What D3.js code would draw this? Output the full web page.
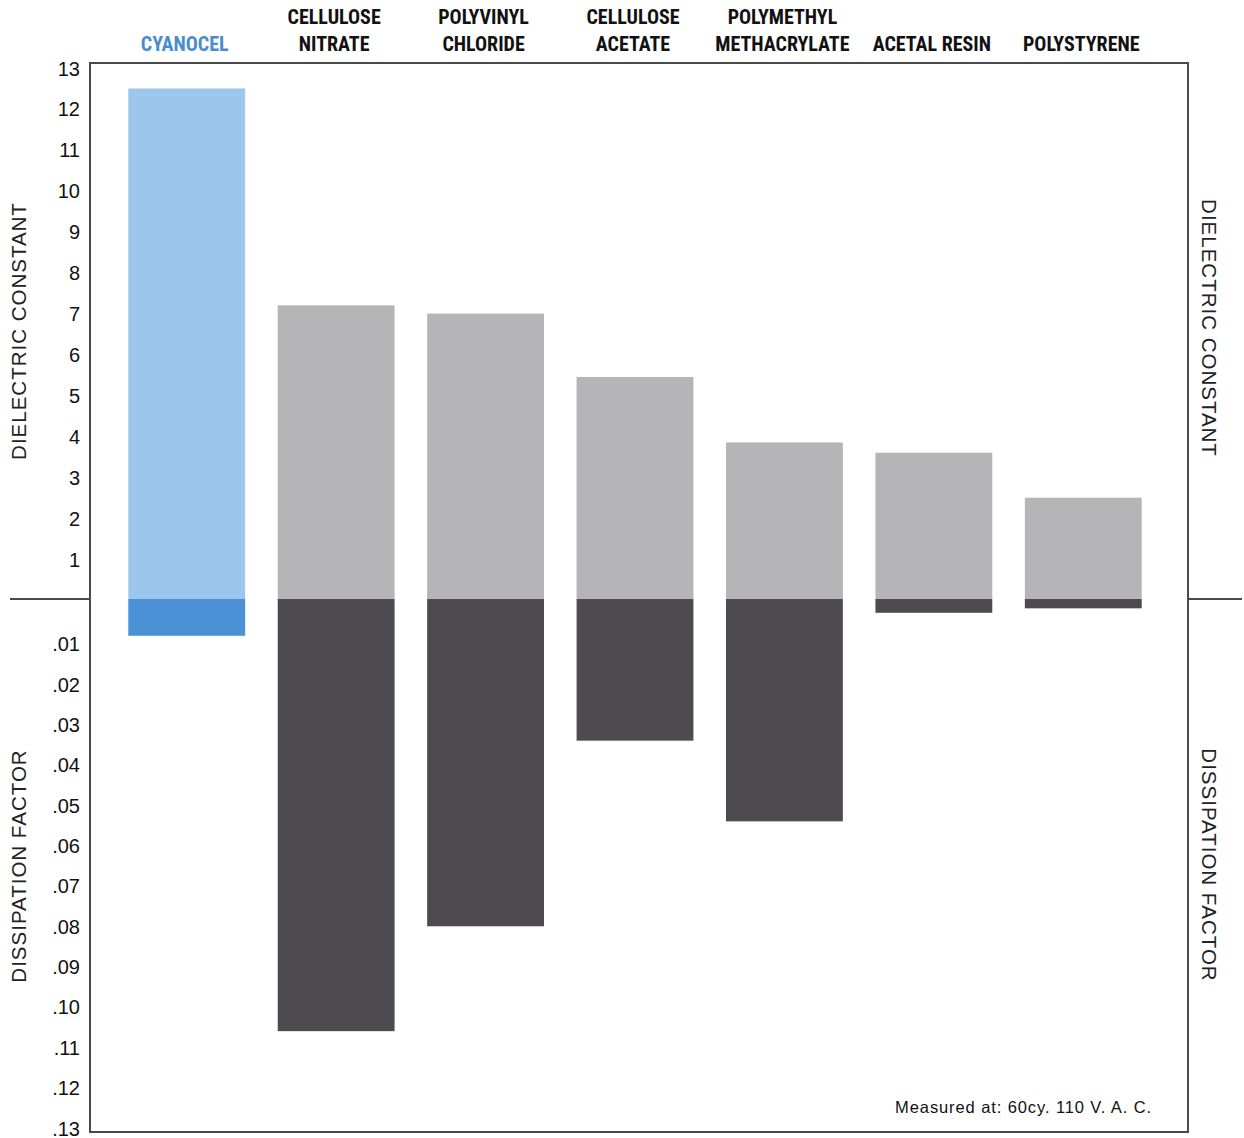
<!DOCTYPE html>
<html>
<head>
<meta charset="utf-8">
<script src="https://cdn.jsdelivr.net/npm/d3@7"></script>
<style>
  html, body { margin: 0; padding: 0; background: #fff; }
  svg { display: block; }
</style>
</head>
<body>
<svg id="chart" width="1244" height="1138"></svg>
<script>
// ---- data ----
const categories = ["CYANOCEL", "CELLULOSE NITRATE", "POLYVINYL CHLORIDE", "CELLULOSE ACETATE",
                    "POLYMETHYL METHACRYLATE", "ACETAL RESIN", "POLYSTYRENE"];
const categoryLines = [["CYANOCEL"], ["CELLULOSE", "NITRATE"], ["POLYVINYL", "CHLORIDE"],
                       ["CELLULOSE", "ACETATE"], ["POLYMETHYL", "METHACRYLATE"], ["ACETAL RESIN"], ["POLYSTYRENE"]];
const dielectricConstant = [12.5, 7.2, 7.0, 5.45, 3.85, 3.6, 2.5];
const dissipationFactor  = [0.008, 0.106, 0.080, 0.034, 0.054, 0.0023, 0.0012];
const dielectricTicks  = [1, 2, 3, 4, 5, 6, 7, 8, 9, 10, 11, 12, 13];
const dissipationTicks = [0.01, 0.02, 0.03, 0.04, 0.05, 0.06, 0.07, 0.08, 0.09, 0.10, 0.11, 0.12, 0.13];
const dissipationTickLabels = [".01", ".02", ".03", ".04", ".05", ".06", ".07", ".08", ".09", ".10", ".11", ".12", ".13"];
const highlight = "CYANOCEL";
const note = "Measured at: 60cy. 110 V. A. C.";

// ---- layout ----
const svg = d3.select("#chart");
const frame = { left: 90, right: 1188, top: 63, bottom: 1132 };

const x = d3.scaleBand().domain(categories).range([112, 1158]).paddingInner(0.218).paddingOuter(0.109);
const yTop = d3.scaleLinear().domain([0, 13]).range([600, 68]);
const yBot = d3.scaleLinear().domain([0, 0.13]).range([603.5, 1128]);
const zeroY = yTop(0) - 1;

const colors = {
  hiTop: "#9cc6ec", hiBot: "#4a91d6",
  top: "#b5b4b7", bot: "#4e4b50",
  frame: "#4a4a4a", text: "#111"
};

const sansFont = "'Liberation Sans', Arial, Helvetica, sans-serif";
const narrowFont = "'Liberation Sans Narrow', 'Roboto Condensed', 'DejaVu Sans Condensed', sans-serif";

// ---- bars ----
const data = categories.map((c, i) => ({ c, dc: dielectricConstant[i], df: dissipationFactor[i] }));

svg.append("g").selectAll("rect").data(data).join("rect")
  .attr("x", d => x(d.c))
  .attr("width", x.bandwidth())
  .attr("y", d => yTop(d.dc))
  .attr("height", d => zeroY - yTop(d.dc))
  .attr("fill", d => d.c === highlight ? colors.hiTop : colors.top);

svg.append("g").selectAll("rect").data(data).join("rect")
  .attr("x", d => x(d.c))
  .attr("width", x.bandwidth())
  .attr("y", zeroY)
  .attr("height", d => yBot(d.df) - zeroY)
  .attr("fill", d => d.c === highlight ? colors.hiBot : colors.bot);

// ---- frame ----
svg.append("rect")
  .attr("x", frame.left).attr("y", frame.top)
  .attr("width", frame.right - frame.left).attr("height", frame.bottom - frame.top)
  .attr("fill", "none").attr("stroke", colors.frame).attr("stroke-width", 2);

svg.append("line").attr("x1", 10).attr("x2", frame.left).attr("y1", zeroY).attr("y2", zeroY)
  .attr("stroke", colors.frame).attr("stroke-width", 2);
svg.append("line").attr("x1", frame.right).attr("x2", 1242).attr("y1", zeroY).attr("y2", zeroY)
  .attr("stroke", colors.frame).attr("stroke-width", 2);

// ---- tick labels (left) ----
const axTop = d3.axisLeft(yTop).tickValues(dielectricTicks).tickSize(0).tickPadding(0).tickFormat(d3.format("d"));
const gTop = svg.append("g").attr("transform", `translate(80,0)`).call(axTop);
const axBot = d3.axisLeft(yBot).tickValues(dissipationTicks).tickSize(0).tickPadding(0)
  .tickFormat((d, i) => dissipationTickLabels[i]);
const gBot = svg.append("g").attr("transform", `translate(80,0)`).call(axBot);
[gTop, gBot].forEach(g => {
  g.select(".domain").remove();
  g.selectAll("text").attr("font-family", sansFont).attr("font-size", 20).attr("fill", colors.text)
    .attr("dy", "0.35em");
  g.attr("font-family", null).attr("font-size", null);
});

// ---- axis titles ----
function axisTitle(text, cx, cy, rot) {
  svg.append("text")
    .attr("transform", `translate(${cx},${cy}) rotate(${rot})`)
    .attr("text-anchor", "middle").attr("dy", "0.35em")
    .attr("font-family", sansFont).attr("font-size", 20.5).attr("letter-spacing", 1)
    .attr("fill", "#222")
    .text(text);
}
axisTitle("DIELECTRIC CONSTANT", 19, 331, -90);
axisTitle("DISSIPATION FACTOR", 19, 866, -90);
axisTitle("DIELECTRIC CONSTANT", 1209, 328, 90);
axisTitle("DISSIPATION FACTOR", 1209, 865, 90);

// ---- category labels ----
const catG = svg.append("g");
data.forEach((d, i) => {
  const lines = categoryLines[i];
  const cx = x(d.c) + x.bandwidth() / 2 - 2;
  const t = catG.append("text")
    .attr("text-anchor", "middle")
    .attr("font-family", narrowFont).attr("font-weight", "bold").attr("font-size", 20)
    .attr("fill", d.c === highlight ? "#4a8ccc" : colors.text);
  lines.forEach((ln, j) => {
    t.append("tspan").attr("x", cx).attr("y", 51 - (lines.length - 1 - j) * 27).text(ln);
  });
});

// ---- note ----
svg.append("text")
  .attr("x", 1152).attr("y", 1113)
  .attr("text-anchor", "end")
  .attr("font-family", sansFont).attr("font-size", 16.5).attr("letter-spacing", 0.9)
  .attr("fill", colors.text)
  .text(note);
</script>
</body>
</html>
